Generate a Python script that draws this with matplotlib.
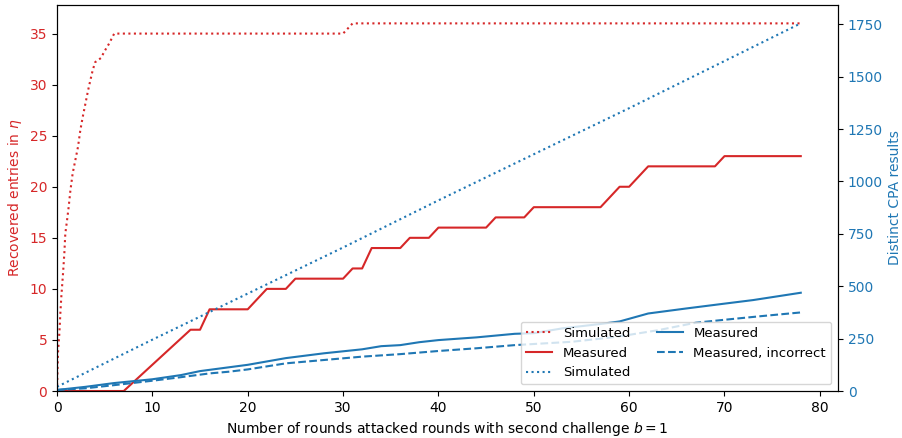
import matplotlib
matplotlib.use("Agg")
import matplotlib.pyplot as plt

# simulated recovered entries (left axis)
sim_red_x = [0, 0.1, 0.25, 0.35, 0.45, 0.63, 0.77, 0.87, 1.05, 1.22, 1.4, 1.64, 1.92, 2.2,
             2.44, 2.69, 2.97, 3.25, 3.49, 3.74, 4.0, 4.6, 5.0, 5.45, 6.0, 30.0, 31.0, 78]
sim_red_y = [0, 3.7, 5.7, 7.6, 9.2, 11.5, 13.5, 15.4, 16.7, 18.0, 19.6, 21.3, 22.6, 23.9,
             25.5, 26.8, 28.1, 29.4, 30.4, 31.4, 32.2, 32.6, 33.3, 34.0, 35, 35, 36, 36]

# measured recovered entries (left axis)
meas_red_x = [0, 7, 14, 15, 16, 20, 22, 24, 25, 30, 31, 32, 33, 36, 37, 39, 40, 45, 46,
              49, 50, 57, 59, 60, 62, 69, 70, 78]
meas_red_y = [0, 0, 6, 6, 8, 8, 10, 10, 11, 11, 12, 12, 14, 14, 15, 15, 16, 16, 17,
              17, 18, 18, 20, 20, 22, 22, 23, 23]

# simulated distinct CPA results (right axis)
sim_blue_x = [0, 10, 20, 30, 40, 50, 60, 70, 78]
sim_blue_y = [20, 245, 465, 685, 910, 1130, 1350, 1575, 1755]

# measured distinct CPA results (right axis)
meas_blue_x = [0, 3, 6, 10, 13, 15, 18, 20, 24, 28, 32, 34, 36, 38, 40, 44, 48, 50, 53,
               57, 59, 62, 66, 70, 73, 78]
meas_blue_y = [5, 20, 38, 56, 76, 95, 113, 125, 157, 180, 199, 214, 219, 233, 243, 256,
               273, 276, 299, 320, 332, 370, 394, 417, 434, 469]

# measured, incorrect
inc_blue_x = [0, 3, 6, 10, 13, 16, 18, 20, 24, 28, 32, 36, 40, 44, 48, 54, 58, 60, 63,
              67, 70, 74, 78]
inc_blue_y = [5, 13, 28, 49, 66, 84, 92, 103, 132, 148, 164, 176, 191, 204, 219, 235,
              255, 268, 290, 326, 340, 358, 375]

red = "tab:red"
blue = "tab:blue"

fig, ax1 = plt.subplots(figsize=(9.02, 4.38), dpi=100)
fig.subplots_adjust(left=0.0632, right=0.929, bottom=0.1073, top=0.9886)

l1, = ax1.plot(sim_red_x, sim_red_y, ":", color=red, label="Simulated")
l2, = ax1.plot(meas_red_x, meas_red_y, "-", color=red, label="Measured")
ax1.set_xlim(left=0)
ax1.set_ylim(bottom=0)
ax1.set_xlabel("Number of rounds attacked rounds with second challenge $b=1$")
ax1.set_ylabel("Recovered entries in $\\eta$", color=red)
ax1.tick_params(axis="y", labelcolor=red)

ax2 = ax1.twinx()
l3, = ax2.plot(sim_blue_x, sim_blue_y, ":", color=blue, label="Simulated")
l4, = ax2.plot(meas_blue_x, meas_blue_y, "-", color=blue, label="Measured")
l5, = ax2.plot(inc_blue_x, inc_blue_y, "--", color=blue, label="Measured, incorrect")
ax2.set_ylim(bottom=0)
ax2.set_ylabel("Distinct CPA results", color=blue)
ax2.tick_params(axis="y", labelcolor=blue)

ax2.legend(handles=[l1, l2, l3, l4, l5], loc="lower right", ncol=2, fontsize=9.5)

fig.savefig("out.png", dpi=100)
